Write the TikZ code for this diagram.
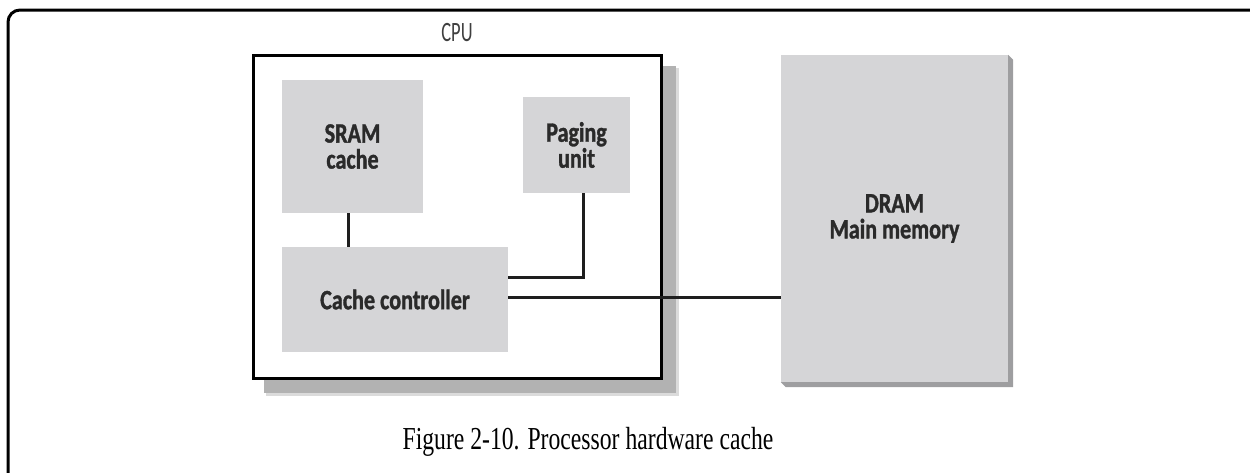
\documentclass[tikz,border=0pt]{standalone}
\usepackage{fontspec}
\setmainfont{Liberation Serif}
\newfontfamily\capfont[FakeStretch=0.74]{Liberation Serif}
\newfontfamily\labfont[FakeStretch=0.79, BoldFeatures={FakeBold=1.2}]{Carlito}
\newfontfamily\cpufont[FakeStretch=0.66]{Carlito}
\definecolor{boxfill}{HTML}{D5D5D7}
\definecolor{bevel}{HTML}{9E9EA0}
\definecolor{labtext}{HTML}{2A2A2A}
\definecolor{wire}{HTML}{1E1E1E}
\pgfdeclarelayer{cpulayer}
\pgfdeclarelayer{shadelayer}
\pgfsetlayers{cpulayer,shadelayer,main}
\usetikzlibrary{calc}
\tikzset{
  unitbox/.style={fill=boxfill, draw=none, inner sep=0pt, align=center,
    font=\labfont\bfseries\fontsize{28}{26}\selectfont, text=labtext},
  cpubox/.style={draw=black, line width=3pt, fill=white, inner sep=0pt},
  wireline/.style={draw=wire, line width=3pt},
  bevelfill/.style={fill=bevel},
}
\newcommand{\bevelof}[1]{%
  \begin{pgfonlayer}{shadelayer}
  \fill[bevelfill] (#1.north east) -- ++(5,5) -- ($(#1.south east)+(5,5)$) -- ($(#1.south west)+(5,5)$) -- (#1.south west) -- cycle;
  \end{pgfonlayer}}
\begin{document}
\begin{tikzpicture}[x=1pt,y=-1pt]
\path[use as bounding box] (0,0) rectangle (1250,472);
\clip (0,0) rectangle (1250,472);
% outer frame
\draw[line width=3pt, rounded corners=12pt] (8,10) rectangle (1264,492);
% CPU box
\node[cpubox, minimum width=408pt, minimum height=323pt] (cpu) at (457,216.5) {};
\begin{pgfonlayer}{cpulayer}
\fill[gray!28] ($(cpu.north west)+(14,14)$) rectangle ($(cpu.south east)+(16,16)$);
\fill[gray!60] ($(cpu.north west)+(12,12)$) rectangle ($(cpu.south east)+(13,13)$);
\end{pgfonlayer}
\node[font=\cpufont\fontsize{28}{28}\selectfont, text=labtext!90] (cpulabel) at (457,32.5) {CPU};
% units
\node[unitbox, minimum width=141pt, minimum height=133pt] (sram) at (352.5,146.5) {SRAM\\cache};
\node[unitbox, minimum width=107pt, minimum height=96pt] (paging) at (576.5,145) {Paging\\unit};
\node[unitbox, minimum width=226pt, minimum height=105pt] (cc) at (395,299.5) {Cache controller};
\node[unitbox, minimum width=227pt, minimum height=327pt] (dram) at (894.5,218.5) {DRAM\\Main memory};
\bevelof{sram}
\bevelof{paging}
\bevelof{cc}
\bevelof{dram}
% connectors
\draw[wireline] (sram.south -| 348,0) -- (cc.north -| 348,0);
\draw[wireline] (cc.east |- 0,277) -| (paging.south -| 583,0);
\draw[wireline] (cc.east |- 0,297) -- (dram.west |- 0,297);
% caption
\node[anchor=base, font=\capfont\fontsize{32}{36}\selectfont] (caption) at (588,449) {Figure 2-10. Processor hardware cache};
\end{tikzpicture}
\end{document}
